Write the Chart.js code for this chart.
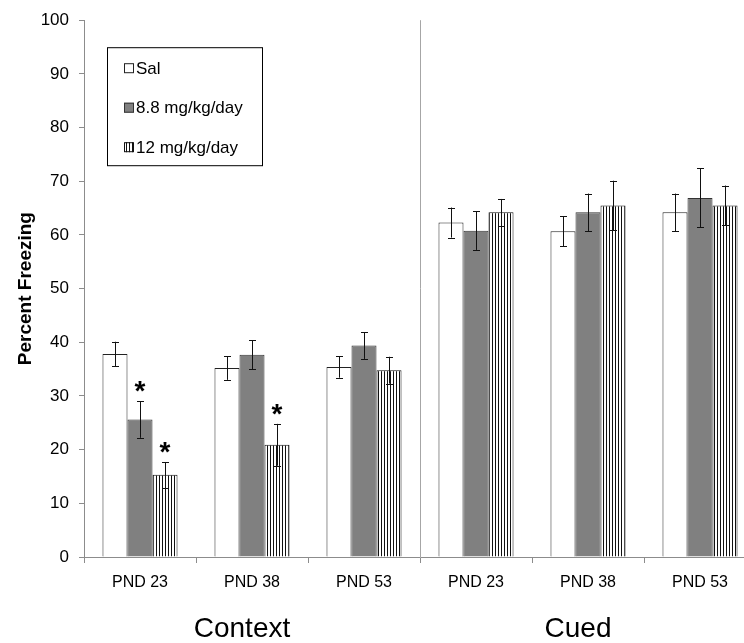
<!DOCTYPE html>
<html>
<head>
<meta charset="utf-8">
<script src="https://cdn.jsdelivr.net/npm/chart.js@4.4.0/dist/chart.umd.min.js"></script>
<style>
    body { margin: 0; overflow: hidden; background: #fff; }
    #wrap { position: absolute; left: 0; top: 0; width: 760px; height: 643px; }
</style>
</head>
<body>
<div id="wrap"><canvas id="freezeChart"></canvas></div>
<script>
// Data
const categories = ['PND 23', 'PND 38', 'PND 53', 'PND 23', 'PND 38', 'PND 53'];
const groupNames = ['Context', 'Cued'];
const seriesNames = ['Sal', '8.8 mg/kg/day', '12 mg/kg/day'];

const salValues = [37.8, 35.2, 35.4, 62.3, 60.7, 64.2];
const salErrors = [2.3, 2.2, 2.0, 2.8, 2.8, 3.5];
const midValues = [25.6, 37.7, 39.4, 60.8, 64.2, 66.9];
const midErrors = [3.4, 2.7, 2.5, 3.6, 3.5, 5.5];
const highValues = [15.3, 20.9, 34.8, 64.2, 65.5, 65.5];
const highErrors = [2.4, 3.9, 2.5, 2.5, 4.6, 3.7];

// significance markers (asterisks) per series
const salStars = [false, false, false, false, false, false];
const midStars = [true, false, false, false, false, false];
const highStars = [true, true, false, false, false, false];

const yTicks = [0, 10, 20, 30, 40, 50, 60, 70, 80, 90, 100];

const FONT = 'Arial, "Liberation Sans", sans-serif';

// Vertical stripe pattern for the 12 mg/kg/day bars
function makeStripes() {
    const c = document.createElement('canvas');
    c.width = 3;
    c.height = 4;
    const g = c.getContext('2d');
    g.fillStyle = '#ffffff';
    g.fillRect(0, 0, 3, 4);
    g.fillStyle = '#111111';
    g.fillRect(0, 0, 1, 4);
    return g.createPattern(c, 'repeat');
}
const stripes = makeStripes();

// Error bars + asterisks
const errorBarPlugin = {
    id: 'errorBars',
    afterDatasetsDraw(chart) {
        const ctx = chart.ctx;
        const yScale = chart.scales.y;
        ctx.save();
        chart.data.datasets.forEach((ds, di) => {
            const meta = chart.getDatasetMeta(di);
            meta.data.forEach((bar, i) => {
                const v = ds.data[i];
                const e = ds.errors[i];
                const yTop = yScale.getPixelForValue(v + e);
                const yBot = yScale.getPixelForValue(v - e);
                const x = Math.round(bar.x) + 0.5;
                ctx.strokeStyle = '#111';
                ctx.lineWidth = 1;
                ctx.beginPath();
                ctx.moveTo(x, yTop);
                ctx.lineTo(x, yBot);
                ctx.moveTo(x - 3.5, Math.round(yTop) + 0.5);
                ctx.lineTo(x + 3.5, Math.round(yTop) + 0.5);
                ctx.moveTo(x - 3.5, Math.round(yBot) + 0.5);
                ctx.lineTo(x + 3.5, Math.round(yBot) + 0.5);
                ctx.stroke();
                if (ds.stars[i]) {
                    ctx.fillStyle = '#000';
                    ctx.font = 'bold 28px ' + FONT;
                    ctx.textAlign = 'center';
                    ctx.textBaseline = 'alphabetic';
                    ctx.fillText('*', bar.x, yTop - 1);
                }
            });
        });
        ctx.restore();
    }
};

// Divider line, group names and the boxed legend
const extrasPlugin = {
    id: 'extras',
    afterDraw(chart) {
        const ctx = chart.ctx;
        const xScale = chart.scales.x;
        const area = chart.chartArea;
        ctx.save();

        // divider between Context and Cued
        const divX = Math.round((xScale.getPixelForValue(2) + xScale.getPixelForValue(3)) / 2) + 0.5;
        ctx.strokeStyle = '#a6a6a6';
        ctx.lineWidth = 1;
        ctx.beginPath();
        ctx.moveTo(divX, area.top);
        ctx.lineTo(divX, area.bottom);
        ctx.stroke();

        // group names
        ctx.fillStyle = '#000';
        ctx.font = '28px ' + FONT;
        ctx.textAlign = 'center';
        ctx.textBaseline = 'alphabetic';
        groupNames.forEach((name, gi) => {
            const cx = (xScale.getPixelForValue(gi * 3) + xScale.getPixelForValue(gi * 3 + 2)) / 2 - 10;
            ctx.fillText(name, cx, 637);
        });

        // legend box
        const lx = area.left + 23, ly = area.top + 27;
        ctx.strokeStyle = '#000';
        ctx.strokeRect(lx + 0.5, ly + 0.5, 155, 118);
        ctx.font = '17px ' + FONT;
        ctx.textAlign = 'left';
        ctx.textBaseline = 'middle';
        chart.data.datasets.forEach((ds, di) => {
            const cy = ly + 21 + di * 39.5;
            ctx.fillStyle = ds.backgroundColor;
            ctx.fillRect(lx + 17, cy - 5, 10, 10);
            ctx.strokeStyle = ds.borderColor;
            ctx.strokeRect(lx + 17.5, cy - 4.5, 9, 9);
            ctx.fillStyle = '#000';
            ctx.fillText(ds.label, lx + 29, cy + 1);
        });
        ctx.restore();
    }
};

const ctx = document.getElementById('freezeChart').getContext('2d');
new Chart(ctx, {
    type: 'bar',
    data: {
        labels: categories,
        datasets: [
            {
                label: seriesNames[0],
                data: salValues,
                errors: salErrors,
                stars: salStars,
                backgroundColor: '#ffffff',
                borderColor: '#222222',
                borderWidth: 1
            },
            {
                label: seriesNames[1],
                data: midValues,
                errors: midErrors,
                stars: midStars,
                backgroundColor: '#808080',
                borderColor: '#333333',
                borderWidth: 1
            },
            {
                label: seriesNames[2],
                data: highValues,
                errors: highErrors,
                stars: highStars,
                backgroundColor: stripes,
                borderColor: '#111111',
                borderWidth: 1
            }
        ]
    },
    options: {
        responsive: true,
        maintainAspectRatio: false,
        animation: false,
        layout: { padding: { top: 20, right: 4, left: 0, bottom: 0 } },
        datasets: {
            bar: { categoryPercentage: 0.67, barPercentage: 1.0 }
        },
        plugins: {
            legend: { display: false },
            tooltip: { enabled: false }
        },
        scales: {
            x: {
                grid: {
                    display: true,
                    drawOnChartArea: false,
                    offset: true,
                    tickLength: 6,
                    color: '#8c8c8c'
                },
                border: { color: '#8c8c8c' },
                ticks: {
                    color: '#000',
                    font: { family: FONT, size: 16 },
                    padding: 10,
                    maxRotation: 0,
                    autoSkip: false
                },
                afterFit(scale) { scale.height = 86; }
            },
            y: {
                min: 0,
                max: 100,
                afterBuildTicks(scale) {
                    scale.ticks = yTicks.map(v => ({ value: v }));
                },
                grid: {
                    display: true,
                    drawOnChartArea: false,
                    tickLength: 5,
                    color: '#8c8c8c'
                },
                border: { color: '#8c8c8c' },
                ticks: {
                    color: '#000',
                    font: { family: FONT, size: 17 },
                    padding: 10
                },
                title: {
                    display: true,
                    text: 'Percent Freezing',
                    color: '#000',
                    font: { family: FONT, size: 19, weight: 'bold' },
                    padding: { top: 14, bottom: 0 }
                },
                afterFit(scale) { scale.width = 84; }
            }
        }
    },
    plugins: [errorBarPlugin, extrasPlugin]
});
</script>
</body>
</html>
